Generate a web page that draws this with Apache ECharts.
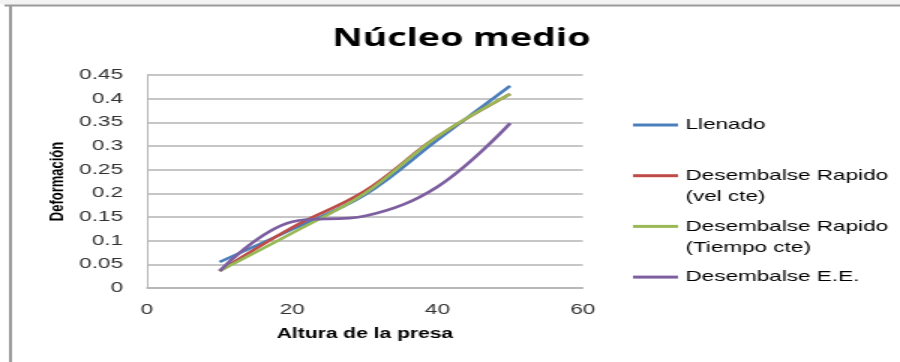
<!DOCTYPE html>
<html>
<head>
<meta charset="utf-8">
<script src="https://cdn.jsdelivr.net/npm/echarts@6/dist/echarts.min.js"></script>
<style>
  html, body { margin: 0; padding: 0; background: #ffffff; overflow: hidden; }
  /* The chart is laid out narrow and widened 1.5x, giving the broad lettering of the sheet */
  #chart { width: 600px; height: 362px; transform: scaleX(1.5); transform-origin: 0 0; }
</style>
</head>
<body>
<div id="chart"></div>
<script>
// Dam height (x) and deformation readings for each loading case
const alturas = [10, 20, 30, 40, 50];
const llenado = [0.055, 0.124, 0.197, 0.313, 0.427];
const rapidoVel = [0.036, 0.128, 0.205, 0.320, 0.410];
const rapidoTiempo = [0.036, 0.116, 0.200, 0.320, 0.410];
const embalseEE = [0.036, 0.140, 0.152, 0.214, 0.348];

const seriesNames = [
  'Llenado',
  'Desembalse Rapido (vel cte)',
  'Desembalse Rapido (Tiempo cte)',
  'Desembalse E.E.'
];
const seriesColors = ['#4a7ebb', '#be4b48', '#98b954', '#7d5fa0'];
const seriesValues = [llenado, rapidoVel, rapidoTiempo, embalseEE];

const yTicks = [0, 0.05, 0.1, 0.15, 0.2, 0.25, 0.3, 0.35, 0.4, 0.45];
const xTicks = [0, 20, 40, 60];

const font = 'Liberation Sans';

const chart = echarts.init(document.getElementById('chart'), null, { renderer: 'canvas' });

const series = seriesNames.map((name, i) => ({
  name: name,
  type: 'line',
  smooth: 0.38,
  showSymbol: false,
  symbol: 'none',
  data: alturas.map((x, j) => [x, seriesValues[i][j]]),
  lineStyle: { color: seriesColors[i], width: 2.6 },
  itemStyle: { color: seriesColors[i] },
  z: 3 + i
}));

chart.setOption({
  backgroundColor: '#ffffff',
  animation: false,
  graphic: [
    { type: 'rect', shape: { x: 0, y: 0, width: 600, height: 4.5 }, style: { fill: '#f3f3f3' } },
    { type: 'text', x: 307.5, y: 38.5, style: { text: 'Núcleo medio', font: 'bold 25px "Open Sans"', fill: '#000000', align: 'center', verticalAlign: 'middle' } },
    { type: 'text', x: 457, y: 197, style: { text: '(vel cte)', font: '15px "Liberation Sans"', fill: '#000000', verticalAlign: 'middle' } },
    { type: 'text', x: 457, y: 248, style: { text: '(Tiempo cte)', font: '15px "Liberation Sans"', fill: '#000000', verticalAlign: 'middle' } },
    { type: 'line', shape: { x1: 3, y1: 5.5, x2: 600, y2: 5.5 }, style: { stroke: '#9a9a9a', lineWidth: 2 } },
    { type: 'line', shape: { x1: 7, y1: 5, x2: 7, y2: 362 }, style: { stroke: '#9a9a9a', lineWidth: 2 } }
  ],
  grid: { left: 98, right: 211.5, top: 75, bottom: 74 },
  xAxis: {
    type: 'value',
    min: xTicks[0],
    max: xTicks[xTicks.length - 1],
    interval: 20,
    name: 'Altura de la presa',
    nameLocation: 'middle',
    nameGap: 39,
    nameTextStyle: { fontFamily: font, fontWeight: 'bold', fontSize: 14, color: '#000000' },
    axisLine: { show: true, lineStyle: { color: '#b4b4b4', width: 1.5 } },
    axisTick: { show: false },
    axisLabel: { fontFamily: font, fontSize: 15, color: '#333333', margin: 14 },
    splitLine: { show: false }
  },
  yAxis: {
    type: 'value',
    min: yTicks[0],
    max: yTicks[yTicks.length - 1],
    interval: 0.05,
    name: 'Deformación',
    nameLocation: 'middle',
    nameGap: 53,
    nameRotate: 90,
    nameTextStyle: { fontFamily: font, fontWeight: 'bold', fontSize: 13, color: '#000000' },
    axisLine: { show: true, lineStyle: { color: '#b4b4b4', width: 1 } },
    axisTick: { show: false },
    axisLabel: {
      fontFamily: font, fontSize: 15, color: '#333333', margin: 16,
      formatter: v => {
        const t = yTicks.find(k => Math.abs(k - v) < 1e-9);
        return String(t !== undefined ? +t.toFixed(2) : v);
      }
    },
    splitLine: { show: true, lineStyle: { color: '#c6c6c6', width: 2 } }
  },
  legend: {
    orient: 'vertical',
    left: 422,
    top: 116,
    padding: 0,
    itemWidth: 30,
    itemHeight: 3,
    itemGap: 32.7,
    icon: 'rect',
    data: seriesNames.map((n, i) => ({ name: n, itemStyle: { color: seriesColors[i] } })),
    formatter: n => n.replace(/ \(.*\)$/, ''),
    textStyle: { fontFamily: font, fontSize: 15, lineHeight: 18, color: '#000000' }
  },
  series: series
});
</script>
</body>
</html>
